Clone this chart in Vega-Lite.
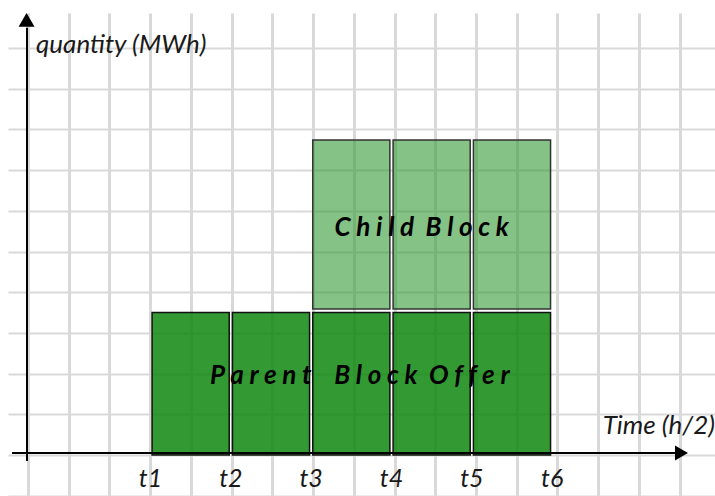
{
  "$schema": "https://vega.github.io/schema/vega-lite/v6.json",
  "width": 707,
  "height": 483,
  "autosize": {"type": "none"},
  "padding": {"left": 8, "top": 13, "right": 0, "bottom": 0},
  "background": "white",
  "data": {"values": [{"item": "annotation"}]},
  "config": {
    "view": {"stroke": null},
    "axis": {"title": null, "labels": false, "ticks": false, "domain": false, "gridColor": "#d9d9d9", "gridOpacity": 1},
    "text": {"font": "Lato"}
  },
  "datasets": {
    "blocks": [
      {"block": "Parent", "start": 1, "end": 2, "low": 0, "high": 3.5},
      {"block": "Parent", "start": 2, "end": 3, "low": 0, "high": 3.5},
      {"block": "Parent", "start": 3, "end": 4, "low": 0, "high": 3.5},
      {"block": "Parent", "start": 4, "end": 5, "low": 0, "high": 3.5},
      {"block": "Parent", "start": 5, "end": 6, "low": 0, "high": 3.5},
      {"block": "Child", "start": 3, "end": 4, "low": 3.5, "high": 7.74},
      {"block": "Child", "start": 4, "end": 5, "low": 3.5, "high": 7.74},
      {"block": "Child", "start": 5, "end": 6, "low": 3.5, "high": 7.74}
    ],
    "ticks": [
      {"label": "t1", "t": 1},
      {"label": "t2", "t": 2},
      {"label": "t3", "t": 3},
      {"label": "t4", "t": 4},
      {"label": "t5", "t": 5},
      {"label": "t6", "t": 6}
    ]
  },
  "layer": [
    {
      "data": {"name": "blocks"},
      "transform": [{"filter": "datum.block === 'Parent'"}],
      "mark": {"type": "rect", "fill": "#0f870f", "fillOpacity": 0.85, "stroke": "#111111", "strokeWidth": 1.5, "xOffset": 1.6, "x2Offset": -1.6},
      "encoding": {
        "x": {"field": "start", "type": "quantitative", "scale": {"domain": [-0.7739, 8.0273], "nice": false, "zero": false},
          "axis": {"values": [-0.525, -0.018, 0.489, 0.996, 1.503, 2.010, 2.517, 3.024, 3.531, 4.038, 4.545, 5.052, 5.559, 6.066, 6.573, 7.080, 7.587], "grid": true, "gridWidth": 3}},
        "x2": {"field": "end"},
        "y": {"field": "high", "type": "quantitative", "scale": {"domain": [-1.0074, 10.860], "nice": false, "zero": false},
          "axis": {"values": [-1, 0, 1, 2, 3, 4, 5, 6, 7, 8, 9, 10], "grid": true, "gridWidth": 2}},
        "y2": {"field": "low"}
      }
    },
    {
      "data": {"name": "blocks"},
      "transform": [{"filter": "datum.block === 'Child'"}],
      "mark": {"type": "rect", "fill": "#339933", "fillOpacity": 0.6, "stroke": "#333333", "strokeWidth": 1.5, "xOffset": 1.6, "x2Offset": -1.6, "y2Offset": -3.5},
      "encoding": {
        "x": {"field": "start", "type": "quantitative", "scale": {"domain": [-0.7739, 8.0273], "nice": false, "zero": false}},
        "x2": {"field": "end"},
        "y": {"field": "high", "type": "quantitative", "scale": {"domain": [-1.0074, 10.860], "nice": false, "zero": false}},
        "y2": {"field": "low"}
      }
    },
    {
      "mark": {"type": "rule", "stroke": "#000000", "strokeWidth": 2},
      "encoding": {
        "x": {"datum": -0.724, "type": "quantitative", "scale": {"domain": [-0.7739, 8.0273], "nice": false, "zero": false}},
        "x2": {"datum": 7.54},
        "y": {"datum": 0.049, "type": "quantitative", "scale": {"domain": [-1.0074, 10.860], "nice": false, "zero": false}}
      }
    },
    {
      "mark": {"type": "rule", "stroke": "#000000", "strokeWidth": 2},
      "encoding": {
        "x": {"datum": -0.5374, "type": "quantitative", "scale": {"domain": [-0.7739, 8.0273], "nice": false, "zero": false}},
        "y": {"datum": -0.15, "type": "quantitative", "scale": {"domain": [-1.0074, 10.860], "nice": false, "zero": false}},
        "y2": {"datum": 10.5}
      }
    },
    {
      "mark": {"type": "point", "shape": "triangle-right", "filled": true, "fill": "#000000", "opacity": 1, "size": 225, "strokeWidth": 0},
      "encoding": {
        "x": {"datum": 7.61, "type": "quantitative", "scale": {"domain": [-0.7739, 8.0273], "nice": false, "zero": false}},
        "y": {"datum": 0.049, "type": "quantitative", "scale": {"domain": [-1.0074, 10.860], "nice": false, "zero": false}}
      }
    },
    {
      "mark": {"type": "point", "shape": "triangle-up", "filled": true, "fill": "#000000", "opacity": 1, "size": 256, "strokeWidth": 0},
      "encoding": {
        "x": {"datum": -0.543, "type": "quantitative", "scale": {"domain": [-0.7739, 8.0273], "nice": false, "zero": false}},
        "y": {"datum": 10.69, "type": "quantitative", "scale": {"domain": [-1.0074, 10.860], "nice": false, "zero": false}}
      }
    },
    {
      "data": {"name": "ticks"},
      "mark": {"type": "text", "font": "Lato", "fontStyle": "italic", "fontSize": 25, "color": "#1a1a1a", "align": "center", "baseline": "alphabetic"},
      "encoding": {
        "x": {"field": "t", "type": "quantitative", "scale": {"domain": [-0.7739, 8.0273], "nice": false, "zero": false}},
        "y": {"datum": -0.786, "type": "quantitative", "scale": {"domain": [-1.0074, 10.860], "nice": false, "zero": false}},
        "text": {"field": "label"}
      }
    },
    {
      "mark": {"type": "text", "text": "quantity (MWh)", "font": "Lato", "fontStyle": "italic", "fontSize": 26, "color": "#1a1a1a", "align": "left", "baseline": "alphabetic"},
      "encoding": {
        "x": {"datum": -0.425, "type": "quantitative", "scale": {"domain": [-0.7739, 8.0273], "nice": false, "zero": false}},
        "y": {"datum": 9.877, "type": "quantitative", "scale": {"domain": [-1.0074, 10.860], "nice": false, "zero": false}}
      }
    },
    {
      "mark": {"type": "text", "text": "Time (h/2)", "font": "Lato", "fontStyle": "italic", "fontSize": 26, "color": "#1a1a1a", "align": "left", "baseline": "alphabetic"},
      "encoding": {
        "x": {"datum": 6.629, "type": "quantitative", "scale": {"domain": [-0.7739, 8.0273], "nice": false, "zero": false}},
        "y": {"datum": 0.516, "type": "quantitative", "scale": {"domain": [-1.0074, 10.860], "nice": false, "zero": false}}
      }
    },
    {
      "mark": {"type": "text", "text": "C h i l d\u00a0\u00a0B l o c k", "font": "Lato", "fontStyle": "italic", "fontWeight": "bold", "fontSize": 26, "color": "#000000", "align": "center", "baseline": "alphabetic"},
      "encoding": {
        "x": {"datum": 4.376, "type": "quantitative", "scale": {"domain": [-0.7739, 8.0273], "nice": false, "zero": false}},
        "y": {"datum": 5.38, "type": "quantitative", "scale": {"domain": [-1.0074, 10.860], "nice": false, "zero": false}}
      }
    },
    {
      "mark": {"type": "text", "text": "P a r e n t\u00a0\u00a0\u00a0 B l o c k\u00a0 O f f e r", "font": "Lato", "fontStyle": "italic", "fontWeight": "bold", "fontSize": 26, "color": "#000000", "align": "center", "baseline": "alphabetic"},
      "encoding": {
        "x": {"datum": 3.606, "type": "quantitative", "scale": {"domain": [-0.7739, 8.0273], "nice": false, "zero": false}},
        "y": {"datum": 1.744, "type": "quantitative", "scale": {"domain": [-1.0074, 10.860], "nice": false, "zero": false}}
      }
    }
  ]
}
